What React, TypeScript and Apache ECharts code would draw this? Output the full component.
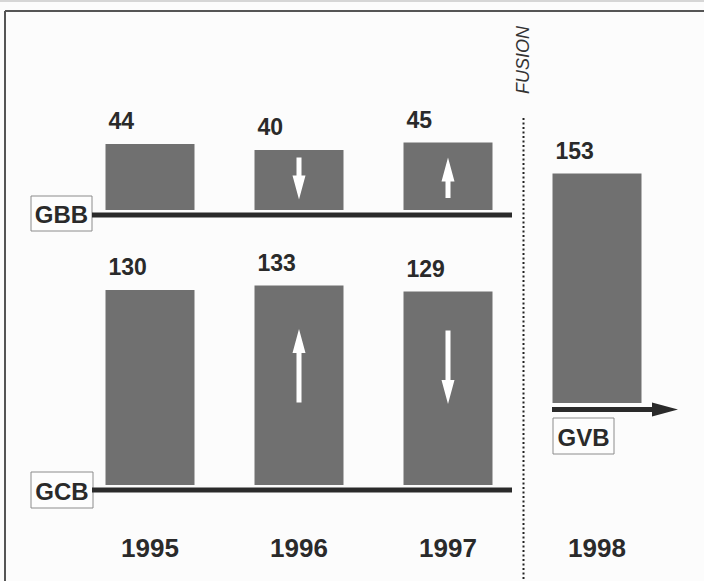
import React, { useEffect, useRef } from "react";
import * as echarts from "echarts";

const years = ["1995", "1996", "1997", "1998"];
const gbbValues = [44, 40, 45, null];
const gcbValues = [130, 133, 129, null];
const gvbValues = [null, null, null, 153];
// [category index, arrow tail value, arrow tip value]
const gbbArrows = [
  [1, 35, 7],
  [2, 8, 35],
];
const gcbArrows = [
  [1, 55, 104],
  [2, 103, 54],
];
const boxLabels = ["GBB", "GCB", "GVB"];
const fusionLabel = "FUSION";

const FONT = "'Liberation Sans', Arial, Helvetica, sans-serif";
const BAR = "#707070";
const INK = "#2a2a2a";
const LINE = "#2a2a2a";

const arrowRender = (params: any, api: any) => {
  const cat = api.value(0);
  const from = api.value(1);
  const to = api.value(2);
  const p0 = api.coord([cat, from]);
  const p1 = api.coord([cat, to]);
  const x = p0[0];
  const y0 = p0[1];
  const y1 = p1[1];
  const dir = y1 > y0 ? 1 : -1;
  const head = 24;
  const hw = 6.5;
  const sw = 2.5;
  const yh = y1 - dir * head;
  return {
    type: "polygon",
    shape: {
      points: [
        [x - sw, y0],
        [x + sw, y0],
        [x + sw, yh],
        [x + hw, yh],
        [x, y1],
        [x - hw, yh],
        [x - sw, yh],
      ],
    },
    style: { fill: "#ffffff" },
  };
};

const valueLabel = {
  show: true,
  position: [3, -23],
  align: "left",
  verticalAlign: "middle",
  formatter: "{c}",
  color: INK,
  fontFamily: FONT,
  fontWeight: "bold",
  fontSize: 23,
};

const box = (x: number, y: number, w: number, h: number, text: string) => ({
  type: "group",
  z: 20,
  children: [
    {
      type: "rect",
      shape: { x, y, width: w, height: h },
      style: { fill: "#fdfdfd", stroke: "#8c8c8c", lineWidth: 1 },
    },
    {
      type: "text",
      x: x + w / 2,
      y: y + h / 2 + 1,
      style: {
        text,
        fill: INK,
        font: `bold 24px ${FONT}`,
        align: "center",
        verticalAlign: "middle",
      },
    },
  ],
});

export default function App() {
  const ref = useRef<HTMLDivElement>(null);
  useEffect(() => {
    if (!ref.current) return;
    const chart = echarts.init(ref.current, null, { renderer: "svg" });
    const hiddenX = (gi: number) => ({
      type: "category",
      gridIndex: gi,
      data: years,
      show: false,
    });
    chart.setOption({
      animation: false,
      backgroundColor: "#fcfcfc",
      grid: [
        { left: 75.5, width: 596, top: 60, height: 150 },
        { left: 75.5, width: 596, top: 185, height: 300 },
        { left: 75.5, width: 596, top: 103, height: 300 },
      ],
      xAxis: [
        hiddenX(0),
        {
          type: "category",
          gridIndex: 1,
          data: years,
          axisLine: { show: false },
          axisTick: { show: false },
          axisLabel: {
            margin: 50,
            color: INK,
            fontFamily: FONT,
            fontWeight: "bold",
            fontSize: 26,
            lineHeight: 26,
          },
        },
        hiddenX(2),
      ],
      yAxis: [
        { type: "value", gridIndex: 0, min: 0, max: 100, show: false },
        { type: "value", gridIndex: 1, min: 0, max: 200, show: false },
        { type: "value", gridIndex: 2, min: 0, max: 200, show: false },
      ],
      series: [
        {
          type: "bar",
          name: "GBB",
          xAxisIndex: 0,
          yAxisIndex: 0,
          data: gbbValues,
          barWidth: 89,
          itemStyle: { color: BAR },
          label: valueLabel,
        },
        {
          type: "bar",
          name: "GCB",
          xAxisIndex: 1,
          yAxisIndex: 1,
          data: gcbValues,
          barWidth: 89,
          itemStyle: { color: BAR },
          label: valueLabel,
        },
        {
          type: "bar",
          name: "GVB",
          xAxisIndex: 2,
          yAxisIndex: 2,
          data: gvbValues,
          barWidth: 89,
          itemStyle: { color: BAR },
          label: valueLabel,
        },
        {
          type: "custom",
          xAxisIndex: 0,
          yAxisIndex: 0,
          z: 5,
          data: gbbArrows,
          encode: { x: 0, y: [1, 2] },
          renderItem: arrowRender,
        },
        {
          type: "custom",
          xAxisIndex: 1,
          yAxisIndex: 1,
          z: 5,
          data: gcbArrows,
          encode: { x: 0, y: [1, 2] },
          renderItem: arrowRender,
        },
      ],
      graphic: [
        // scan edge
        { type: "line", shape: { x1: 0, y1: 1, x2: 704, y2: 1 }, style: { stroke: "#d6d6d6", lineWidth: 2 } },
        // frame
        { type: "line", shape: { x1: 5, y1: 11, x2: 704, y2: 11 }, style: { stroke: "#555", lineWidth: 2 } },
        { type: "line", shape: { x1: 5, y1: 11, x2: 5, y2: 581 }, style: { stroke: "#555", lineWidth: 2 } },
        // baselines
        { type: "line", z: 10, shape: { x1: 92, y1: 215, x2: 512, y2: 215 }, style: { stroke: LINE, lineWidth: 5 } },
        { type: "line", z: 10, shape: { x1: 92, y1: 490, x2: 512, y2: 490 }, style: { stroke: LINE, lineWidth: 5 } },
        // GVB arrow
        { type: "line", z: 10, shape: { x1: 552, y1: 409.5, x2: 655, y2: 409.5 }, style: { stroke: LINE, lineWidth: 5 } },
        {
          type: "polygon",
          z: 10,
          shape: { points: [[652, 402.5], [678, 409.5], [652, 416.5]] },
          style: { fill: LINE },
        },
        // fusion divider
        {
          type: "line",
          shape: { x1: 523.5, y1: 118, x2: 523.5, y2: 581 },
          style: { stroke: "#222", lineWidth: 2, lineDash: [2, 2.5] },
        },
        {
          type: "text",
          x: 522.5,
          y: 60,
          rotation: Math.PI / 2,
          style: {
            text: fusionLabel,
            fill: "#333",
            font: `italic 18px ${FONT}`,
            align: "center",
            verticalAlign: "middle",
          },
        },
        box(31, 196, 61, 35, boxLabels[0]),
        box(31, 472, 62, 36, boxLabels[1]),
        box(553, 418, 61, 36, boxLabels[2]),
      ],
    });
    return () => chart.dispose();
  }, []);
  return (
    <div
      ref={ref}
      style={{ position: "fixed", left: 0, top: 0, width: 704, height: 581, background: "#fcfcfc" }}
    />
  );
}
